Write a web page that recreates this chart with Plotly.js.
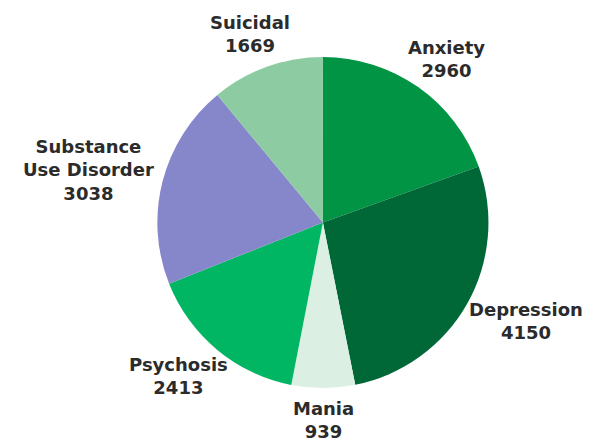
<!DOCTYPE html>
<html>
<head>
<meta charset="utf-8">
<script src="https://cdn.plot.ly/plotly-3.0.1.min.js"></script>
<style>html,body{margin:0;padding:0;background:#fff;}#chart{width:611px;height:445px;}</style>
</head>
<body>
<div id="chart"></div>
<script>
var categories = ["Anxiety", "Depression", "Mania", "Psychosis", "Substance Use Disorder", "Suicidal"];
var displayLabels = ["Anxiety", "Depression", "Mania", "Psychosis", "Substance<br>Use Disorder", "Suicidal"];
var values = [2960, 4150, 939, 2413, 3038, 1669];
var colors = ["#009444", "#006837", "#dcefe3", "#00b662", "#8686cb", "#8dcca2"];

var W = 611, H = 445;
var FONT_FAMILY = "'DejaVu Sans', Inter, sans-serif";
var FONT_SIZE = 18;
var domainX = [0.255, 0.802], domainY = [0.128, 0.872];
var labelGap = 11;

var trace = {
  type: "pie",
  labels: categories,
  values: values,
  textinfo: "none",
  sort: false,
  direction: "clockwise",
  rotation: 0,
  marker: { colors: colors, line: { width: 0 } },
  domain: { x: domainX, y: domainY },
  automargin: false,
  showlegend: false
};

// Label placement derived from slice mid-angles (computed from the values)
var cx = (domainX[0] + domainX[1]) / 2 * W;
var cy = (1 - (domainY[0] + domainY[1]) / 2) * H;
var R = Math.min((domainX[1] - domainX[0]) * W, (domainY[1] - domainY[0]) * H) / 2;
var total = values.reduce(function (a, b) { return a + b; }, 0);

var ctx = document.createElement("canvas").getContext("2d");
ctx.font = "bold " + FONT_SIZE + "px " + FONT_FAMILY;

var annotations = [];
var cum = 0;
values.forEach(function (v, i) {
  var mid = (cum + v / 2) / total;
  cum += v;
  var th = 2 * Math.PI * mid;
  var dx = Math.sin(th), dy = -Math.cos(th);
  var lines = (displayLabels[i] + "<br>" + v).split("<br>");
  var w = Math.max.apply(null, lines.map(function (s) { return ctx.measureText(s).width; }));
  var h = lines.length * FONT_SIZE * 1.3;
  var px = cx + dx * (R + labelGap) + dx * w / 2;
  var py = cy + dy * (R + labelGap) + dy * h / 2;
  py = Math.min(py, H - h / 2 - 2);
  annotations.push({
    xref: "paper", yref: "paper",
    x: px / W, y: 1 - py / H,
    xanchor: "center", yanchor: "middle",
    align: "center",
    showarrow: false,
    text: "<b>" + lines.join("<br>") + "</b>",
    font: { family: FONT_FAMILY, size: FONT_SIZE, color: "#2b2b2b" }
  });
});

var layout = {
  width: W,
  height: H,
  margin: { l: 0, r: 0, t: 0, b: 0 },
  paper_bgcolor: "#ffffff",
  showlegend: false,
  annotations: annotations
};

Plotly.newPlot("chart", [trace], layout, { displayModeBar: false, staticPlot: true });
</script>
</body>
</html>
